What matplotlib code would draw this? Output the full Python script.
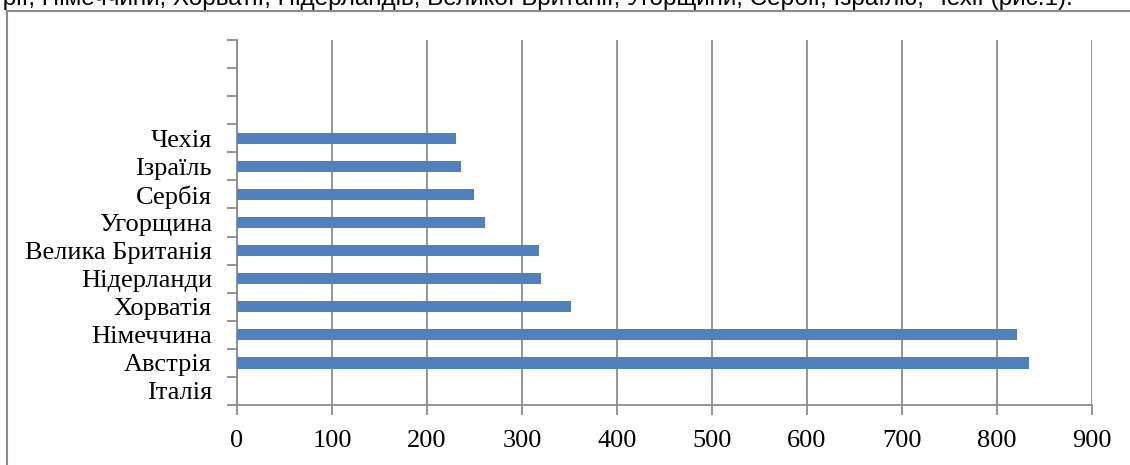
import matplotlib
matplotlib.use("Agg")
import matplotlib.pyplot as plt
from matplotlib.lines import Line2D

# categories bottom -> top, last three slots are empty in the source
countries = ["Італія", "Австрія", "Німеччина", "Хорватія", "Нідерланди",
             "Велика Британія", "Угорщина", "Сербія", "Ізраїль", "Чехія",
             "", "", ""]
values = [0, 834, 821, 352, 320, 318, 261, 249, 236, 230, 0, 0, 0]
x_ticks = [0, 100, 200, 300, 400, 500, 600, 700, 800, 900]
caption = ("Австрії, Німеччини, Хорватії, Нідерландів, Великої Британії, "
           "Угорщини, Сербії, Ізраїлю, Чехії (рис.1).")

W, H = 1130, 465
GRID = "#8c8c8c"
BAR = "#4f81bd"

fig = plt.figure(figsize=(W / 100, H / 100), dpi=100)

# axes placed in pixel units of the reference
left, right, top, bottom = 237, 1092, 40, 405
ax = fig.add_axes([left / W, 1 - bottom / H, (right - left) / W, (bottom - top) / H])

ypos = list(range(len(countries)))
ax.barh(ypos, values, height=0.4, color=BAR, zorder=3)

ax.set_xlim(0, 900)
ax.set_ylim(-0.5, len(countries) - 0.5)
ax.set_xticks(x_ticks)
ax.set_xticklabels([str(v) for v in x_ticks])
ax.xaxis.grid(True, color=GRID, linewidth=1.3, zorder=0)

# category labels between tick marks, like a spreadsheet chart
ax.set_yticks([i - 0.5 for i in range(len(countries) + 1)])
ax.set_yticklabels([])
ax.set_yticks(ypos, minor=True)
ax.set_yticklabels(countries, minor=True)
ax.tick_params(axis="y", which="minor", length=0, pad=18)
ax.tick_params(axis="y", which="major", length=7, width=1.3, color=GRID)
ax.tick_params(axis="x", length=7, width=1.3, color=GRID, pad=11)

for lbl in ax.get_xticklabels() + ax.get_yticklabels(minor=True):
    lbl.set_fontfamily("Liberation Serif")
    lbl.set_fontsize(19)

for side in ("top", "right"):
    ax.spines[side].set_visible(False)
for side in ("left", "bottom"):
    ax.spines[side].set_color(GRID)
    ax.spines[side].set_linewidth(1.3)

# outer chart frame (left and top edges visible in the crop)
fig.add_artist(Line2D([7 / W, 7 / W], [0, 1 - 11 / H], transform=fig.transFigure,
                      color=GRID, linewidth=1.5))
fig.add_artist(Line2D([7 / W, 1], [1 - 11 / H, 1 - 11 / H], transform=fig.transFigure,
                      color=GRID, linewidth=1.5))

# text line from the page above, cut by the crop
fig.text(1073 / W, 1 - 5 / H, caption, ha="right", va="baseline",
         fontsize=17.45, family="Liberation Sans")

fig.savefig("out.png", dpi=100)
